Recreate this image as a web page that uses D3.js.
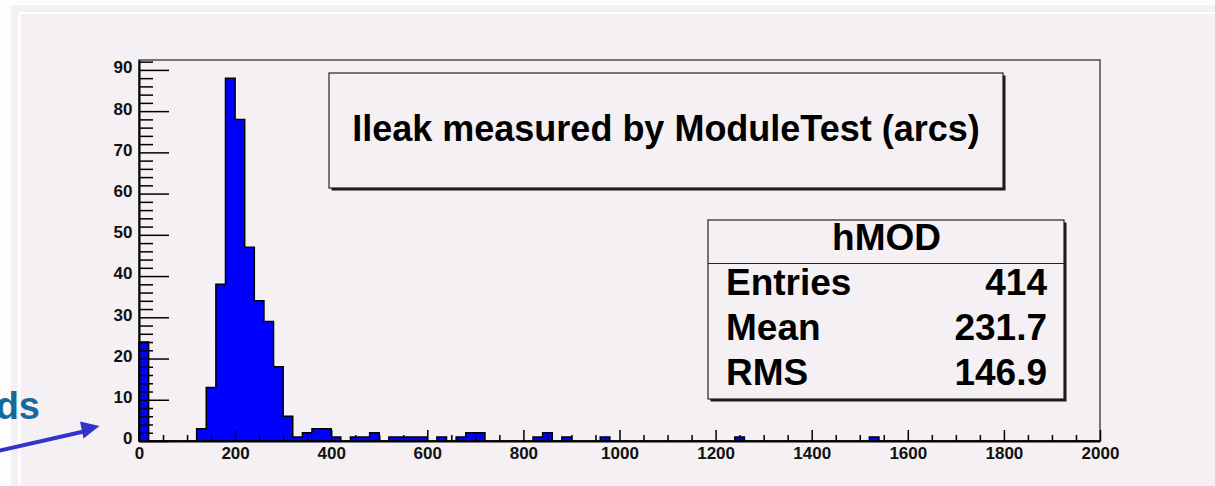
<!DOCTYPE html>
<html>
<head>
<meta charset="utf-8">
<script src="https://cdnjs.cloudflare.com/ajax/libs/d3/7.8.5/d3.min.js"></script>
<style>
  html, body { margin: 0; padding: 0; background: #fff; }
  svg { display: block; }
  text { font-family: "Liberation Sans", Arial, sans-serif; font-weight: bold; }
</style>
</head>
<body>
<div id="chart"></div>
<script>
// histogram hMOD : 100 bins of 20 from 0 to 2000
var binLow = 0, binHigh = 2000, binWidth = 20;
var counts = [
  24, 0, 0, 0, 0, 0, 3,13,38,88,78,47,34,29,18, 6, 1, 2, 3, 3,
   1, 0, 1, 1, 2, 0, 1, 1, 1, 1, 0, 1, 0, 1, 2, 2, 0, 0, 0, 0,
   0, 1, 2, 0, 1, 0, 0, 0, 1, 0, 0, 0, 0, 0, 0, 0, 0, 0, 0, 0,
   0, 0, 1, 0, 0, 0, 0, 0, 0, 0, 0, 0, 0, 0, 0, 0, 1, 0, 0, 0,
   0, 0, 0, 0, 0, 0, 0, 0, 0, 0, 0, 0, 0, 0, 0, 0, 0, 0, 0, 0
];
var xMajor = [0,200,400,600,800,1000,1200,1400,1600,1800,2000];
var yMajor = [0,10,20,30,40,50,60,70,80,90];
var title = 'Ileak measured by ModuleTest (arcs)';
var statName = 'hMOD';
var statLabels = ['Entries','Mean','RMS'];
var statValues = ['414','231.7','146.9'];

var width = 1215, height = 486;
var bg = '#f4f0f4';

var svg = d3.select('#chart').append('svg')
    .attr('width', width).attr('height', height);

// canvas background + white frame line
svg.append('rect').attr('x', 0).attr('y', 0).attr('width', width).attr('height', height).attr('fill', '#fdfdfd');
svg.append('rect').attr('x', 11).attr('y', 5).attr('width', width - 11).attr('height', height - 5).attr('fill', bg);
svg.append('path')
    .attr('d', 'M19.5,' + height + 'V13H' + width)
    .attr('fill', 'none').attr('stroke', '#ffffff').attr('stroke-width', 2);

// plot area
var x = d3.scaleLinear().domain([binLow, binHigh]).range([139, 1100]);
var yMax = d3.max(counts) * 1.05;
var y = d3.scaleLinear().domain([0, yMax]).range([441, 60]);

// frame
svg.append('rect')
    .attr('x', x(0)).attr('y', y(yMax))
    .attr('width', x(2000) - x(0)).attr('height', y(0) - y(yMax))
    .attr('fill', 'none').attr('stroke', '#222').attr('stroke-width', 1.2);

// histogram as a step contour
var pts = counts.map(function(c, i) { return [binLow + i * binWidth, c]; });
pts.push([binHigh, counts[counts.length - 1]]);
var area = d3.area()
    .curve(d3.curveStepAfter)
    .x(function(d) { return x(d[0]); })
    .y0(y(0))
    .y1(function(d) { return y(d[1]); });
svg.append('path')
    .datum(pts)
    .attr('d', area)
    .attr('fill', '#0000ff')
    .attr('stroke', '#000')
    .attr('stroke-width', 1.5)
    .attr('stroke-linejoin', 'miter');

// minor ticks
var xMinor = d3.range(0, 2001, 50).filter(function(v) { return v % 200 !== 0; });
var yMinor = d3.range(0, 93, 2).filter(function(v) { return v % 10 !== 0; });

var gxMinor = svg.append('g').attr('transform', 'translate(0,' + y(0) + ')')
    .call(d3.axisBottom(x).tickValues(xMinor).tickSize(-6).tickFormat(''));
var gyMinor = svg.append('g').attr('transform', 'translate(' + x(0) + ',0)')
    .call(d3.axisLeft(y).tickValues(yMinor).tickSize(-14).tickFormat(''));
[gxMinor, gyMinor].forEach(function(g) {
    g.select('.domain').remove();
    g.selectAll('line').attr('stroke', '#000').attr('stroke-width', 1.5);
});

// major ticks + labels
var gx = svg.append('g').attr('transform', 'translate(0,' + y(0) + ')')
    .call(d3.axisBottom(x).tickValues(xMajor).tickSizeInner(-11).tickSizeOuter(0).tickPadding(6).tickFormat(d3.format('d')));
var gy = svg.append('g').attr('transform', 'translate(' + x(0) + ',0)')
    .call(d3.axisLeft(y).tickValues(yMajor).tickSizeInner(-30).tickSizeOuter(0).tickPadding(6.5).tickFormat(d3.format('d')));
[gx, gy].forEach(function(g) {
    g.select('.domain').attr('stroke', '#000').attr('stroke-width', 2);
    g.selectAll('line').attr('stroke', '#000').attr('stroke-width', 1.5);
    g.selectAll('text').attr('font-size', 17).attr('fill', '#111')
        .style('font-family', '"Liberation Sans", Arial, sans-serif').style('font-weight', 'bold');
});
gy.selectAll('text').attr('dy', '0.17em');

// boxes with ROOT style shadow
function pave(x0, y0, x1, y1) {
    svg.append('rect').attr('x', x0 + 2.5).attr('y', y0 + 2.5)
        .attr('width', x1 - x0).attr('height', y1 - y0).attr('fill', '#1a1a1a');
    svg.append('rect').attr('x', x0).attr('y', y0)
        .attr('width', x1 - x0).attr('height', y1 - y0)
        .attr('fill', bg).attr('stroke', '#222').attr('stroke-width', 1.2);
}

// title
pave(329, 73, 1003, 188);
svg.append('text').attr('x', 666).attr('y', 141)
    .attr('text-anchor', 'middle').attr('font-size', 36).attr('fill', '#000')
    .text(title);

// stats box
pave(708, 220, 1064, 399);
svg.append('line').attr('x1', 708).attr('x2', 1064).attr('y1', 263.5).attr('y2', 263.5)
    .attr('stroke', '#222').attr('stroke-width', 1.2);
svg.append('text').attr('x', 886.5).attr('y', 250)
    .attr('text-anchor', 'middle').attr('font-size', 37).attr('fill', '#000')
    .text(statName);
var rowY = d3.scalePoint().domain(statLabels).range([295, 385]);
svg.selectAll('text.slab').data(statLabels).enter().append('text')
    .attr('class', 'slab')
    .attr('x', 726).attr('y', function(d) { return rowY(d); })
    .attr('font-size', 37).attr('fill', '#000')
    .text(function(d) { return d; });
svg.selectAll('text.sval').data(statValues).enter().append('text')
    .attr('class', 'sval')
    .attr('x', 1047).attr('y', function(d, i) { return rowY(statLabels[i]); })
    .attr('text-anchor', 'end').attr('font-size', 37).attr('fill', '#000')
    .text(function(d) { return d; });

// slide annotation at the left edge
svg.append('text').attr('x', 40).attr('y', 419)
    .attr('text-anchor', 'end').attr('font-size', 38).attr('fill', '#17699d')
    .text('ds');
svg.append('line').attr('x1', -2).attr('y1', 451).attr('x2', 86).attr('y2', 431)
    .attr('stroke', '#3333cc').attr('stroke-width', 4);
svg.append('polygon').attr('points', '80,421.5 99.5,426 83.5,438.5')
    .attr('fill', '#3333cc');
</script>
</body>
</html>
